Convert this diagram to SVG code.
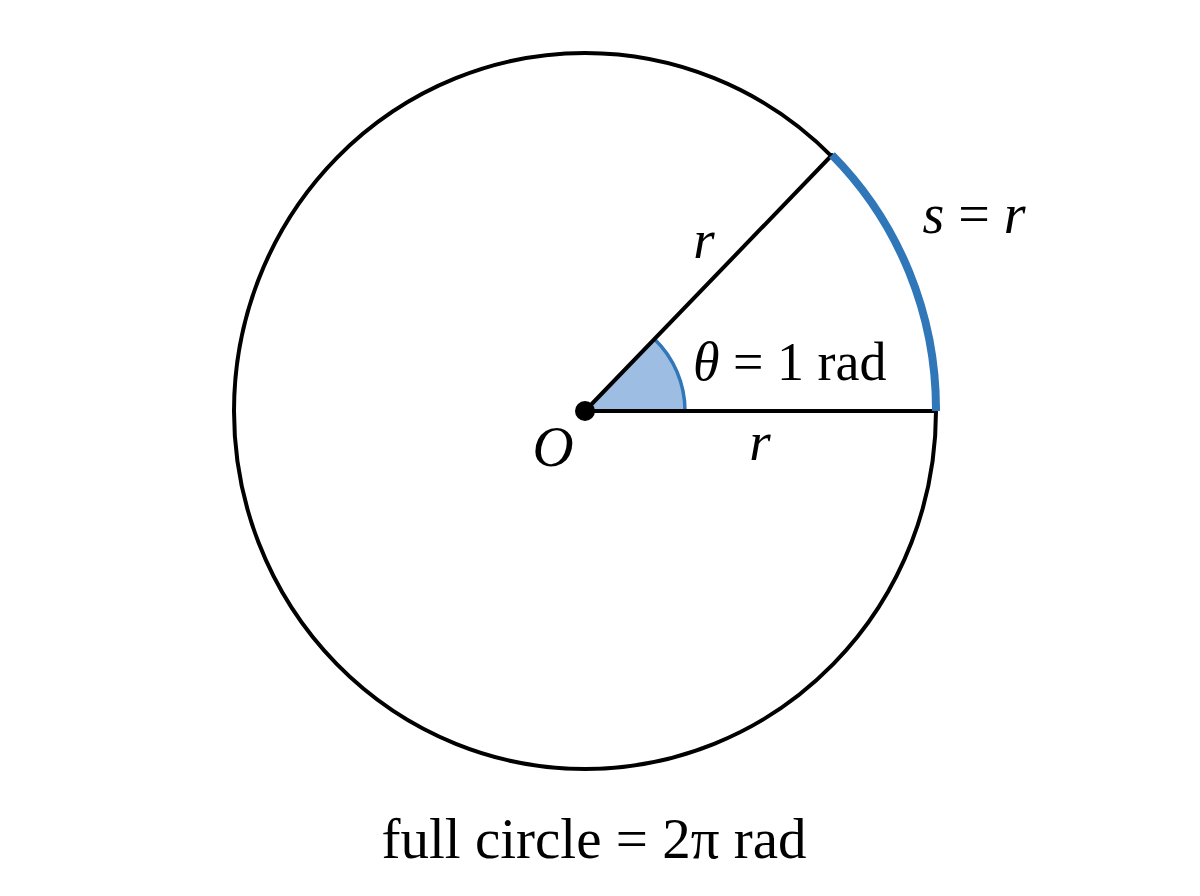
<svg xmlns="http://www.w3.org/2000/svg" width="1200" height="896" viewBox="0 0 1200 896">
<style>
.ln{fill:none;stroke:#000;stroke-width:4;stroke-linecap:round}
.t{font-family:"Liberation Serif","Times New Roman",serif;fill:#000}
.i{font-style:italic}
</style>
<rect width="1200" height="896" fill="#fff"/>
<g id="circle">
<ellipse cx="585" cy="411" rx="351" ry="358" class="ln"/>
</g>
<g id="angle">
<path d="M585,411 L685,411 A100,100 0 0 0 654.4,339 Z" fill="#9dbde2"/>
<path d="M685,411 A100,100 0 0 0 654.4,339" fill="none" stroke="#2f77b8" stroke-width="3.5"/>
</g>
<g id="connectors">
<line x1="585" y1="411" x2="936" y2="411" class="ln"/>
<line x1="585" y1="411" x2="832" y2="155" class="ln"/>
<path d="M832,155 A351,358 0 0 1 936,411" fill="none" stroke="#2f77b8" stroke-width="8"/>
</g>
<g id="center">
<circle cx="585" cy="411" r="10" fill="#000"/>
<text x="553" y="466" class="t i" font-size="57" text-anchor="middle">O</text>
</g>
<g id="labels">
<text x="704" y="258" class="t i" font-size="55" text-anchor="middle">r</text>
<text x="760" y="460" class="t i" font-size="55" text-anchor="middle">r</text>
<text x="693" y="380" class="t" font-size="54"><tspan class="i">θ</tspan> = 1 rad</text>
<text x="974" y="233" class="t" font-size="56" text-anchor="middle"><tspan class="i">s</tspan> = <tspan class="i">r</tspan></text>
<text x="594" y="858" class="t" font-size="57" text-anchor="middle">full circle = 2π rad</text>
</g>
</svg>
